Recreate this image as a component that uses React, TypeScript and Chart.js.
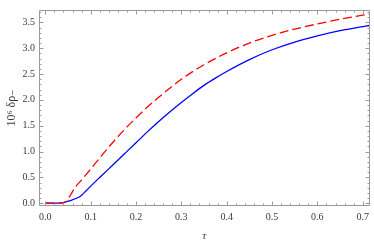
import React, { useEffect, useRef } from "react";
import { Chart, registerables } from "chart.js";

Chart.register(...registerables);

const blueX = [0, 0.025, 0.04, 0.055, 0.07, 0.078, 0.09, 0.1, 0.125, 0.15, 0.175, 0.2, 0.225, 0.25, 0.275, 0.3, 0.325, 0.35, 0.375, 0.4, 0.45, 0.5, 0.55, 0.6, 0.65, 0.7, 0.714];
const blueY = [0, 0, 0.01, 0.05, 0.1, 0.14, 0.24, 0.33, 0.54, 0.75, 0.96, 1.17, 1.38, 1.58, 1.77, 1.95, 2.12, 2.28, 2.42, 2.55, 2.78, 2.97, 3.12, 3.24, 3.34, 3.42, 3.44];

const redX = [0, 0.035, 0.045, 0.055, 0.065, 0.08, 0.1, 0.125, 0.15, 0.175, 0.2, 0.225, 0.25, 0.275, 0.3, 0.35, 0.4, 0.45, 0.5, 0.55, 0.6, 0.65, 0.7, 0.714];
const redY = [0, 0, 0.03, 0.15, 0.3, 0.45, 0.66, 0.93, 1.19, 1.43, 1.65, 1.86, 2.05, 2.23, 2.4, 2.68, 2.91, 3.1, 3.25, 3.37, 3.47, 3.56, 3.64, 3.66];

const xTicks = [0, 0.1, 0.2, 0.3, 0.4, 0.5, 0.6, 0.7];
const yTicks = [0, 0.5, 1.0, 1.5, 2.0, 2.5, 3.0, 3.5];
const xTitle = "τ";
const yTitle = "10⁶ δρ₋";

const FRAME = "#9a9a9a";
const LABEL = "#3a3a3a";
const FONT = "'Liberation Serif', 'DejaVu Serif', serif";

const framePlugin = {
  id: "mmaFrame",
  afterDatasetsDraw(chart: any) {
    const { ctx, chartArea: a, scales } = chart;
    const xs = scales.x;
    const ys = scales.y;
    ctx.save();
    ctx.strokeStyle = FRAME;
    ctx.lineWidth = 1;
    ctx.beginPath();
    ctx.rect(Math.round(a.left) + 0.5, Math.round(a.top) + 0.5, Math.round(a.right - a.left) - 1, Math.round(a.bottom - a.top) - 1);
    ctx.stroke();
    const L = Math.round(a.left) + 0.5, R = Math.round(a.right) - 0.5;
    const T = Math.round(a.top) + 0.5, B = Math.round(a.bottom) - 0.5;
    ctx.beginPath();
    for (let i = -1; i <= 36; i++) {
      const v = i * 0.02;
      if (v < xs.min || v > xs.max) continue;
      const major = i % 5 === 0;
      const len = major ? 4 : 2;
      const px = Math.round(xs.getPixelForValue(v)) + 0.5;
      ctx.moveTo(px, B);
      ctx.lineTo(px, B - len);
      ctx.moveTo(px, T);
      ctx.lineTo(px, T + len);
    }
    for (let i = 0; i <= 37; i++) {
      const v = i * 0.1;
      if (v < ys.min || v > ys.max) continue;
      const major = i % 5 === 0;
      const len = major ? 4 : 2;
      const py = Math.round(ys.getPixelForValue(v)) + 0.5;
      ctx.moveTo(L, py);
      ctx.lineTo(L + len, py);
      ctx.moveTo(R, py);
      ctx.lineTo(R - len, py);
    }
    ctx.stroke();
    ctx.restore();
  },
};

export default function App() {
  const ref = useRef<HTMLCanvasElement | null>(null);
  useEffect(() => {
    document.body.style.margin = "0";
    const canvas = ref.current!;
    const chart = new Chart(canvas, {
      type: "line",
      data: {
        datasets: [
          {
            label: "red",
            data: redX.map((x, i) => ({ x, y: redY[i] })),
            borderColor: "#ff0000",
            borderWidth: 1.3,
            borderDash: [9, 4],
            pointRadius: 0,
            cubicInterpolationMode: "monotone",
            fill: false,
          },
          {
            label: "blue",
            data: blueX.map((x, i) => ({ x, y: blueY[i] })),
            borderColor: "#0000ff",
            borderWidth: 1.3,
            pointRadius: 0,
            cubicInterpolationMode: "monotone",
            fill: false,
          },
        ],
      },
      options: {
        responsive: false,
        animation: false,
        layout: { padding: { top: 1, right: 2, left: 0, bottom: 0 } },
        plugins: { legend: { display: false }, tooltip: { enabled: false } },
        scales: {
          x: {
            type: "linear",
            min: -0.014,
            max: 0.715,
            afterBuildTicks: (s: any) => {
              s.ticks = xTicks.map((v) => ({ value: v }));
            },
            afterFit: (s: any) => {
              s.height = 37;
            },
            grid: { display: false, drawTicks: false },
            border: { display: false },
            ticks: {
              padding: 5,
              maxRotation: 0,
              autoSkip: false,
              color: LABEL,
              font: { family: FONT, size: 10 },
              callback: (v: any) => Number(v).toFixed(1),
            },
            title: {
              display: true,
              text: xTitle,
              color: LABEL,
              font: { family: FONT, size: 11, style: "italic" },
              padding: { top: 0, bottom: 0 },
            },
          },
          y: {
            type: "linear",
            min: -0.055,
            max: 3.74,
            afterBuildTicks: (s: any) => {
              s.ticks = yTicks.map((v) => ({ value: v }));
            },
            afterFit: (s: any) => {
              s.width = 39;
            },
            grid: { display: false, drawTicks: false },
            border: { display: false },
            ticks: {
              padding: 4,
              autoSkip: false,
              color: LABEL,
              font: { family: FONT, size: 10 },
              callback: (v: any) => Number(v).toFixed(1),
            },
            title: {
              display: true,
              text: yTitle,
              color: LABEL,
              font: { family: FONT, size: 12 },
              padding: { top: 5, bottom: 0 },
            },
          },
        },
      },
      plugins: [framePlugin],
    } as any);
    return () => chart.destroy();
  }, []);
  return (
    <div style={{ position: "absolute", left: 0, top: 0, width: 374, height: 243 }}>
      <canvas ref={ref} width={374} height={243} style={{ display: "block" }} />
    </div>
  );
}
